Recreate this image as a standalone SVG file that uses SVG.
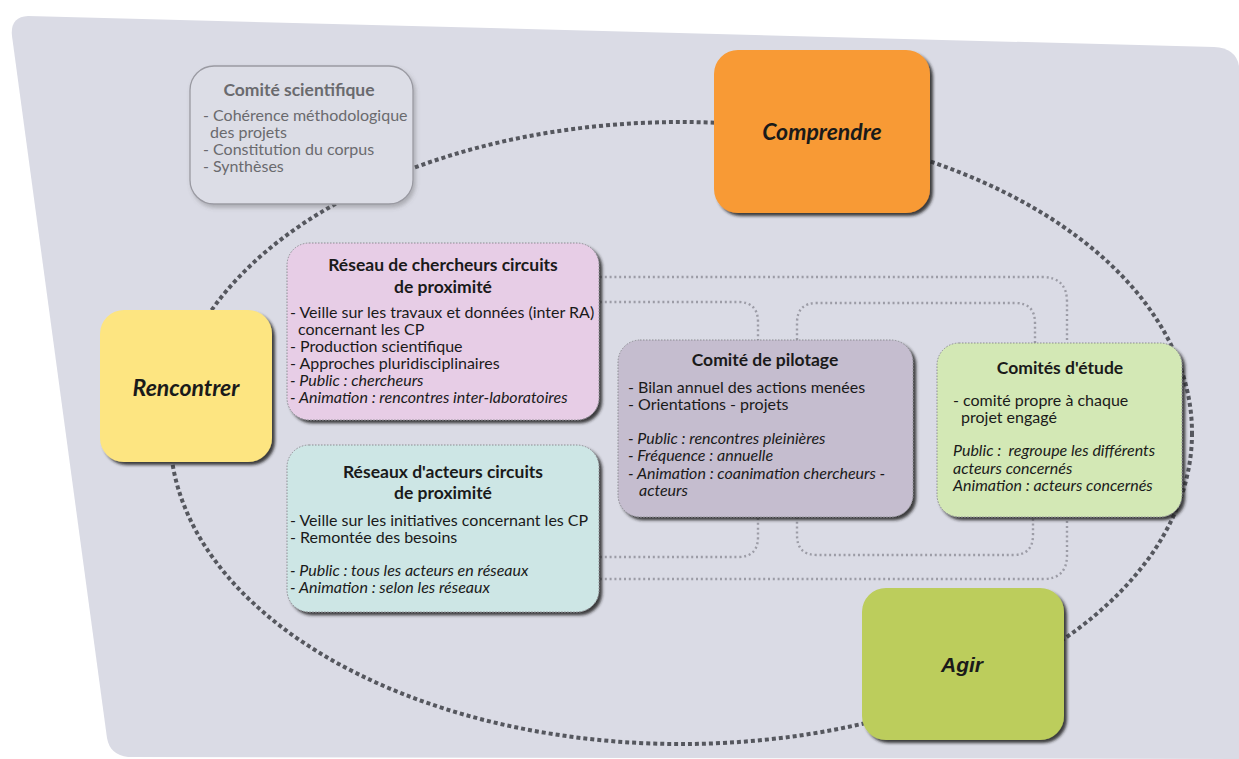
<svg xmlns="http://www.w3.org/2000/svg" width="1239" height="759" viewBox="0 0 1239 759">
<defs>
<filter id="sh" x="-10%" y="-10%" width="125%" height="130%">
<feDropShadow dx="3" dy="3" stdDeviation="1.6" flood-color="#1a1a1a" flood-opacity="0.85"/>
</filter>
<filter id="shl" x="-10%" y="-10%" width="125%" height="130%">
<feDropShadow dx="2" dy="3" stdDeviation="2" flood-color="#555" flood-opacity="0.35"/>
</filter>
</defs>
<style>
text{font-family:Lato,"Open Sans","Liberation Sans",sans-serif;fill:#1a1a1a;font-size:16px}
.t{font-weight:bold;font-size:17.5px;text-anchor:middle}
.i{font-style:italic}
.big{font-weight:bold;font-style:italic;font-size:23px;text-anchor:middle}
.agir{font-family:"Liberation Sans",Arial,sans-serif;font-weight:bold;font-style:italic;font-size:21px;text-anchor:middle}
.sci text{fill:#6a6a6e}
.box{stroke:#8c8c92;stroke-width:1;stroke-dasharray:1.5 1.5}
.conn{fill:none;stroke:#9c9ca6;stroke-width:2.4;stroke-dasharray:2 2.8}
.cycle{fill:none;stroke:#55575e;stroke-width:4;stroke-dasharray:4 3}
</style>
<path d="M28,16 L1214,47 Q1236,48 1239,66 L1239,759 L128,757 Q110,755 107,738 L12,36 Q10,17 28,16 Z" fill="#dadbe5"/>
<g id="connectors">
<ellipse class="cycle" cx="681" cy="433" rx="511" ry="311"/>
<path class="conn" d="M600,277 H1042 Q1067,277 1067,302 V343"/>
<path class="conn" d="M600,302 H738 Q758,302 758,322 V340"/>
<path class="conn" d="M797,340 V323 Q797,303 817,303 H1015 Q1035,303 1035,323 V343"/>
<path class="conn" d="M600,557 H738 Q758,557 758,537 V517"/>
<path class="conn" d="M797,517 V535 Q797,555 817,555 H1013 Q1033,555 1033,535 V517"/>
<path class="conn" d="M600,579 H1043 Q1067,579 1067,555 V517"/>
</g>
<g id="comite-scientifique" class="sci">
<rect x="190" y="66" width="223" height="138" rx="24" fill="#dcdde6" stroke="#9a9aa2" stroke-width="1.3" filter="url(#shl)"/>
<text x="299" y="96" class="t">Comité scientifique</text>
<text x="203" y="121">- Cohérence méthodologique</text>
<text x="210" y="138">des projets</text>
<text x="203" y="155">- Constitution du corpus</text>
<text x="203" y="172">- Synthèses</text>
</g>
<g id="comprendre">
<rect x="714" y="50" width="216" height="163" rx="24" fill="#f89a34" filter="url(#sh)"/>
<text x="822" y="140" class="big">Comprendre</text>
</g>
<g id="rencontrer">
<rect x="100" y="310" width="172" height="152" rx="24" fill="#fde581" filter="url(#sh)"/>
<text x="186" y="396" class="big">Rencontrer</text>
</g>
<g id="agir">
<rect x="862" y="588" width="202" height="152" rx="24" fill="#bccd5c" filter="url(#sh)"/>
<text x="962" y="672" class="agir">Agir</text>
</g>
<g id="reseau-chercheurs">
<rect x="287" y="243" width="312" height="177" rx="22" fill="#e7cde6" class="box" filter="url(#sh)"/>
<text x="443" y="271" class="t">Réseau de chercheurs circuits</text>
<text x="443" y="293" class="t">de proximité</text>
<text x="290" y="318">- Veille sur les travaux et données (inter RA)</text>
<text x="298" y="335">concernant les CP</text>
<text x="290" y="352">- Production scientifique</text>
<text x="290" y="369">- Approches pluridisciplinaires</text>
<text x="290" y="386" class="i">- Public : chercheurs</text>
<text x="290" y="403" class="i">- Animation : rencontres inter-laboratoires</text>
</g>
<g id="reseaux-acteurs">
<rect x="287" y="445" width="312" height="167" rx="22" fill="#cde6e5" class="box" filter="url(#sh)"/>
<text x="443" y="478" class="t">Réseaux d'acteurs circuits</text>
<text x="443" y="499" class="t">de proximité</text>
<text x="290" y="526">- Veille sur les initiatives concernant les CP</text>
<text x="290" y="543">- Remontée des besoins</text>
<text x="290" y="576" class="i">- Public : tous les acteurs en réseaux</text>
<text x="290" y="593" class="i">- Animation : selon les réseaux</text>
</g>
<g id="comite-pilotage">
<rect x="618" y="340" width="295" height="177" rx="22" fill="#c5bdcf" class="box" filter="url(#sh)"/>
<text x="765" y="366" class="t">Comité de pilotage</text>
<text x="628" y="393">- Bilan annuel des actions menées</text>
<text x="628" y="410">- Orientations - projets</text>
<text x="628" y="444" class="i">- Public : rencontres pleinières</text>
<text x="628" y="461" class="i">- Fréquence : annuelle</text>
<text x="628" y="479" class="i">- Animation : coanimation chercheurs -</text>
<text x="639" y="496" class="i">acteurs</text>
</g>
<g id="comites-etude">
<rect x="937" y="343" width="245" height="174" rx="22" fill="#d3e8b5" class="box" filter="url(#sh)"/>
<text x="1060" y="374" class="t">Comités d'étude</text>
<text x="953" y="406">- comité propre à chaque</text>
<text x="961" y="423">projet engagé</text>
<text x="953" y="456" class="i" xml:space="preserve">Public :  regroupe les différents</text>
<text x="953" y="474" class="i">acteurs concernés</text>
<text x="953" y="491" class="i">Animation : acteurs concernés</text>
</g>
</svg>
